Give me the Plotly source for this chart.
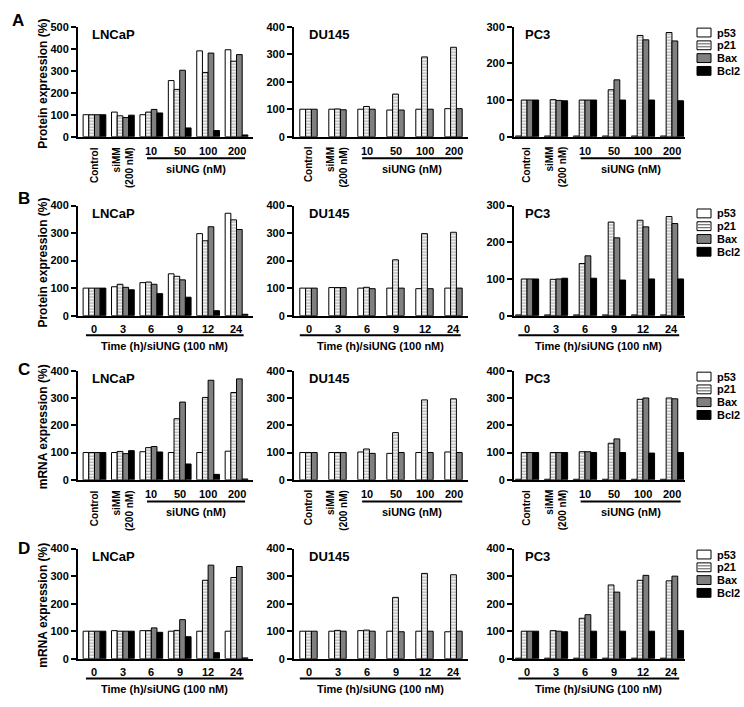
import plotly.graph_objects as go

W, H = 744, 707


def fx(px):
    return px / W


def fy(py):
    return 1 - py / H


# ---------------- data ----------------
proteins = ["p53", "p21", "Bax", "Bcl2"]
conc_cats = ["Control", "siMM (200 nM)", "10", "50", "100", "200"]
conc_text = ["Control", "siMM<br>(200 nM)", "10", "50", "100", "200"]
time_cats = ["0 h", "3 h", "6 h", "9 h", "12 h", "24 h"]
time_text = ["0", "3", "6", "9", "12", "24"]
cells = ["LNCaP", "DU145", "PC3"]

# Row A: protein, siUNG dose
A_LNCaP_p53 = [100, 112, 100, 255, 390, 395]
A_LNCaP_p21 = [100, 95, 112, 215, 292, 343]
A_LNCaP_Bax = [100, 87, 124, 302, 380, 373]
A_LNCaP_Bcl2 = [100, 98, 108, 40, 28, 8]
A_DU145_p53 = [100, 100, 100, 97, 100, 102]
A_DU145_p21 = [100, 101, 110, 155, 290, 325]
A_DU145_Bax = [100, 98, 100, 97, 100, 102]
A_PC3_p53 = [2, 2, 2, 2, 2, 2]
A_PC3_p21 = [100, 101, 100, 128, 276, 284]
A_PC3_Bax = [100, 99, 100, 155, 264, 261]
A_PC3_Bcl2 = [100, 98, 100, 100, 100, 98]

# Row B: protein, time course
B_LNCaP_p53 = [100, 105, 120, 152, 298, 372]
B_LNCaP_p21 = [100, 114, 122, 143, 272, 348]
B_LNCaP_Bax = [100, 103, 114, 130, 323, 313]
B_LNCaP_Bcl2 = [100, 94, 80, 67, 18, 5]
B_DU145_p53 = [100, 102, 100, 100, 98, 100]
B_DU145_p21 = [100, 102, 103, 203, 298, 303]
B_DU145_Bax = [100, 102, 98, 100, 98, 100]
B_PC3_p53 = [2, 2, 2, 2, 2, 2]
B_PC3_p21 = [100, 99, 142, 255, 260, 270]
B_PC3_Bax = [100, 100, 163, 212, 242, 251]
B_PC3_Bcl2 = [100, 102, 102, 97, 100, 100]

# Row C: mRNA, siUNG dose
C_LNCaP_p53 = [100, 100, 103, 100, 100, 105]
C_LNCaP_p21 = [100, 104, 118, 224, 302, 320]
C_LNCaP_Bax = [100, 96, 122, 285, 365, 370]
C_LNCaP_Bcl2 = [100, 107, 102, 58, 20, 3]
C_DU145_p53 = [100, 100, 102, 97, 100, 102]
C_DU145_p21 = [100, 100, 113, 173, 293, 297]
C_DU145_Bax = [100, 100, 97, 100, 100, 100]
C_PC3_p53 = [2, 2, 2, 2, 2, 2]
C_PC3_p21 = [100, 100, 103, 134, 295, 300]
C_PC3_Bax = [100, 100, 103, 150, 300, 297]
C_PC3_Bcl2 = [100, 100, 100, 100, 98, 100]

# Row D: mRNA, time course
D_LNCaP_p53 = [100, 102, 102, 100, 100, 100]
D_LNCaP_p21 = [100, 100, 102, 103, 285, 295]
D_LNCaP_Bax = [100, 100, 112, 142, 340, 335]
D_LNCaP_Bcl2 = [100, 100, 96, 80, 22, 3]
D_DU145_p53 = [100, 100, 102, 100, 100, 98]
D_DU145_p21 = [100, 103, 104, 223, 310, 305]
D_DU145_Bax = [100, 100, 100, 98, 100, 100]
D_PC3_p53 = [2, 2, 2, 2, 2, 2]
D_PC3_p21 = [100, 102, 147, 268, 285, 283]
D_PC3_Bax = [100, 100, 160, 242, 303, 300]
D_PC3_Bcl2 = [100, 98, 100, 100, 100, 102]

y_titles = ["Protein expression (%)", "Protein expression (%)",
            "mRNA expression (%)", "mRNA expression (%)"]
group_titles = ["siUNG (nM)", "Time (h)/siUNG (100 nM)",
                "siUNG (nM)", "Time (h)/siUNG (100 nM)"]
y_tops = [[500, 400, 300], [400, 400, 300], [400, 400, 400], [400, 400, 400]]

panels = {
    ("A", "LNCaP"): [A_LNCaP_p53, A_LNCaP_p21, A_LNCaP_Bax, A_LNCaP_Bcl2],
    ("A", "DU145"): [A_DU145_p53, A_DU145_p21, A_DU145_Bax],
    ("A", "PC3"): [A_PC3_p53, A_PC3_p21, A_PC3_Bax, A_PC3_Bcl2],
    ("B", "LNCaP"): [B_LNCaP_p53, B_LNCaP_p21, B_LNCaP_Bax, B_LNCaP_Bcl2],
    ("B", "DU145"): [B_DU145_p53, B_DU145_p21, B_DU145_Bax],
    ("B", "PC3"): [B_PC3_p53, B_PC3_p21, B_PC3_Bax, B_PC3_Bcl2],
    ("C", "LNCaP"): [C_LNCaP_p53, C_LNCaP_p21, C_LNCaP_Bax, C_LNCaP_Bcl2],
    ("C", "DU145"): [C_DU145_p53, C_DU145_p21, C_DU145_Bax],
    ("C", "PC3"): [C_PC3_p53, C_PC3_p21, C_PC3_Bax, C_PC3_Bcl2],
    ("D", "LNCaP"): [D_LNCaP_p53, D_LNCaP_p21, D_LNCaP_Bax, D_LNCaP_Bcl2],
    ("D", "DU145"): [D_DU145_p53, D_DU145_p21, D_DU145_Bax],
    ("D", "PC3"): [D_PC3_p53, D_PC3_p21, D_PC3_Bax, D_PC3_Bcl2],
}

# ---------------- layout geometry (pixels) ----------------
row_letters = ["A", "B", "C", "D"]
row_px = [(21, 133), (203, 315), (371, 482), (552, 664)]  # (top, bottom) of plot area
col_px = [(78, 253), (294, 468), (514, 685)]
col_range = [(-0.58, 5.58), (-0.5, 5.5), (-0.45, 5.45)]
title_off = [12, 13, 9]
letter_pos = [(18, 15), (24, 196), (24, 370), (24, 552)]
legend_first = [27, 211, 377, 558]
legend_step = 13

FONT = "Liberation Sans, Arial, sans-serif"
bar_w = 0.2
fills = {"p53": "white", "p21": "white", "Bax": "#808080", "Bcl2": "black"}
p21_pattern = dict(shape="-", fgcolor="#555555", bgcolor="white", size=3, solidity=0.45)

fig = go.Figure()
annotations = []
shapes = []
layout = {}

for r, letter in enumerate(row_letters):
    is_conc = letter in ("A", "C")
    cats = conc_cats if is_conc else time_cats
    texts = conc_text if is_conc else time_text
    top, bot = row_px[r]
    for c, cell in enumerate(cells):
        k = r * 3 + c + 1
        xs = "x" if k == 1 else f"x{k}"
        ys = "y" if k == 1 else f"y{k}"
        series = panels[(letter, cell)]
        n = len(series)
        for i, vals in enumerate(series):
            prot = proteins[i]
            marker = dict(color=fills[prot], line=dict(color="black", width=1))
            if prot == "p21":
                marker["pattern"] = p21_pattern
            fig.add_trace(go.Bar(
                x=cats, y=vals, name=prot, xaxis=xs, yaxis=ys,
                width=bar_w, offset=-n * bar_w / 2 + i * bar_w,
                marker=marker, showlegend=False,
            ))
        x0p, x1p = col_px[c]
        layout[f"xaxis{'' if k == 1 else k}"] = dict(
            domain=[fx(x0p), fx(x1p)], anchor=ys, type="category",
            categoryorder="array", categoryarray=cats,
            range=list(col_range[c]), showline=True, linecolor="black", linewidth=2,
            showticklabels=False, ticks="", showgrid=False, zeroline=False, fixedrange=True,
        )
        layout[f"yaxis{'' if k == 1 else k}"] = dict(
            domain=[fy(bot), fy(top)], anchor=xs, range=[0, y_tops[r][c]], dtick=100,
            ticks="outside", ticklen=5, tickwidth=2, tickcolor="black",
            showline=True, linecolor="black", linewidth=2, showgrid=False, zeroline=False,
            tickfont=dict(family=FONT, size=11, color="black", weight="bold"),
            fixedrange=True,
        )
        # panel title (cell line)
        annotations.append(dict(
            text=cell, xref=f"{xs} domain", yref=f"{ys} domain",
            x=title_off[c] / (x1p - x0p), y=1 - 8 / (bot - top),
            xanchor="left", yanchor="middle", showarrow=False,
            font=dict(family=FONT, size=13, color="black", weight="bold"),
        ))
        # x category labels (positioned by category index on the axis)
        for i in range(len(cats)):
            if is_conc and i < 2:
                annotations.append(dict(
                    text=texts[i], xref=xs, yref="paper", x=i, y=fy(bot + 8),
                    xanchor="center", yanchor="top", textangle=-90, align="right",
                    showarrow=False,
                    font=dict(family=FONT, size=10, color="black", weight="bold"),
                ))
            else:
                annotations.append(dict(
                    text=texts[i], xref=xs, yref="paper", x=i, y=fy(bot + 14),
                    xanchor="center", yanchor="middle", showarrow=False,
                    font=dict(family=FONT, size=11, color="black", weight="bold"),
                ))
        # group underline + title
        lx0, lx1 = (1.85, 5.3) if is_conc else (-0.3, 5.25)
        line_y = bot + (22 if is_conc else 20)
        shapes.append(dict(type="line", xref=xs, yref="paper", x0=lx0, x1=lx1,
                           y0=fy(line_y), y1=fy(line_y), line=dict(color="black", width=2)))
        annotations.append(dict(
            text=group_titles[r], xref=xs, yref="paper", x=(lx0 + lx1) / 2,
            y=fy(bot + (33 if is_conc else 31)), xanchor="center", yanchor="middle",
            showarrow=False, font=dict(family=FONT, size=11, color="black", weight="bold"),
        ))
    # row y-axis title
    annotations.append(dict(
        text=y_titles[r], xref="paper", yref="paper", x=fx(43), y=fy((top + bot) / 2 + 2),
        xanchor="center", yanchor="middle", textangle=-90, showarrow=False,
        font=dict(family=FONT, size=12, color="black", weight="bold"),
    ))
    # panel letter
    lx, ly = letter_pos[r]
    annotations.append(dict(
        text=letter, xref="paper", yref="paper", x=fx(lx), y=fy(ly),
        xanchor="center", yanchor="middle", showarrow=False,
        font=dict(family=FONT, size=17, color="black", weight="bold"),
    ))
    # per-row key (swatches + labels)
    for i, prot in enumerate(proteins):
        cy = legend_first[r] + i * legend_step
        sx0, sx1 = 697, 711
        sy0, sy1 = cy - 4.5, cy + 4.5
        shapes.append(dict(type="rect", xref="paper", yref="paper",
                           x0=fx(sx0), x1=fx(sx1), y0=fy(sy1), y1=fy(sy0),
                           fillcolor=fills[prot], line=dict(color="black", width=1)))
        if prot == "p21":
            for hy in (cy - 1.5, cy + 1.5):
                shapes.append(dict(type="line", xref="paper", yref="paper",
                                   x0=fx(sx0 + 1), x1=fx(sx1 - 1), y0=fy(hy), y1=fy(hy),
                                   line=dict(color="#555555", width=1)))
        annotations.append(dict(
            text=prot, xref="paper", yref="paper", x=fx(715), y=fy(cy),
            xanchor="left", yanchor="middle", showarrow=False,
            font=dict(family=FONT, size=11, color="black", weight="bold"),
        ))

fig.update_layout(
    width=W, height=H, margin=dict(l=0, r=0, t=0, b=0),
    paper_bgcolor="white", plot_bgcolor="white", showlegend=False,
    barmode="overlay", annotations=annotations, shapes=shapes,
    **layout,
)

fig.write_html("out.html", config={"displayModeBar": False},
               post_script="document.body.style.margin='0';")
